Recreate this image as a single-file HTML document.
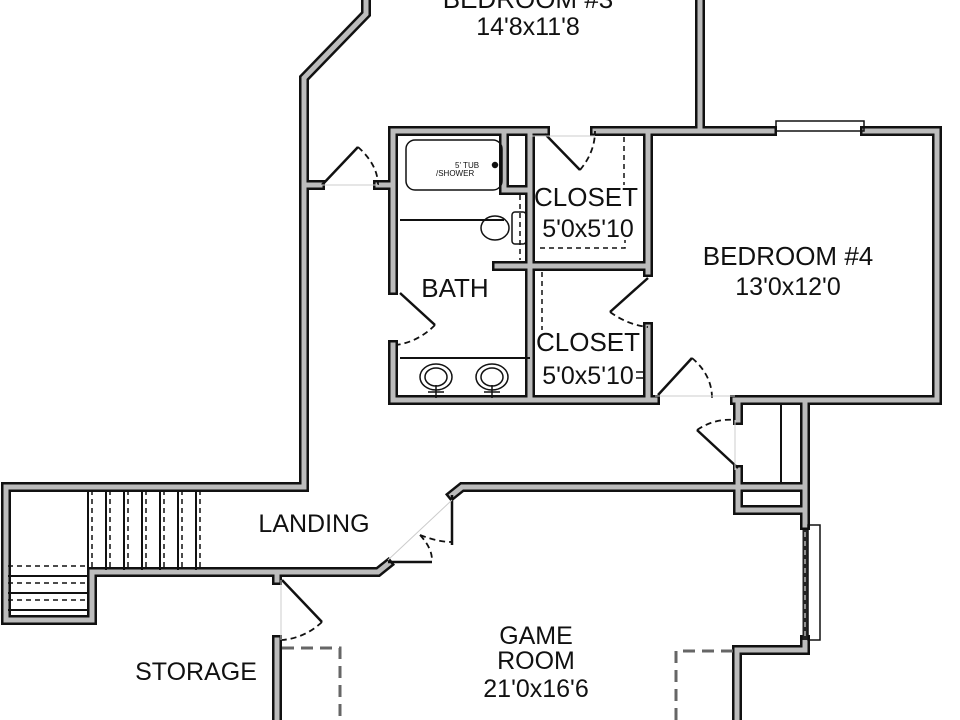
<!DOCTYPE html>
<html><head><meta charset="utf-8"><style>
html,body{margin:0;padding:0;background:#fff;}
svg{display:block;}
text{font-family:"Liberation Sans",sans-serif;fill:#111;}
</style></head><body>
<svg width="960" height="720" viewBox="0 0 960 720" xmlns="http://www.w3.org/2000/svg">
<g fill="none" stroke-linejoin="miter" stroke-linecap="square">
<g stroke="#111" stroke-width="10">
  <path d="M366,0 V14 L304,78 V487 H6 V620 H92 V572 H378 L388,564"/>
  <path d="M700,0 V131"/>
  <path d="M393,131 H545 M595,131 H772 M865,131 H937 V400 H735 M655,400 H393 V345 M393,290 V131"/>
  <path d="M304,185 H320 M378,185 H393"/>
  <path d="M530,131 V400 M497,266 H648 M648,131 V272 M648,327 V400"/>
  <path d="M504,131 V190 H530"/>
  <path d="M738,400 V420 M738,470 V510 H805 M738,487 H805 M805,400 V525 M805,640 V650 H737 V720"/>
  <path d="M452,495 L462,487 H738"/>
  <path d="M277,572 V580 M277,640 V720"/>
</g>
<g stroke="#bcbcbc" stroke-width="5">
  <path d="M366,0 V14 L304,78 V487 H6 V620 H92 V572 H378 L388,564"/>
  <path d="M700,0 V131"/>
  <path d="M393,131 H545 M595,131 H772 M865,131 H937 V400 H735 M655,400 H393 V345 M393,290 V131"/>
  <path d="M304,185 H320 M378,185 H393"/>
  <path d="M530,131 V400 M497,266 H648 M648,131 V272 M648,327 V400"/>
  <path d="M504,131 V190 H530"/>
  <path d="M738,400 V420 M738,470 V510 H805 M738,487 H805 M805,400 V525 M805,640 V650 H737 V720"/>
  <path d="M452,495 L462,487 H738"/>
  <path d="M277,572 V580 M277,640 V720"/>
</g>
</g>
<g stroke="#111" stroke-width="2" fill="none">
  <path d="M400,220 H504 M400,358 H530"/>
  <path d="M781,404 V484"/>
  <rect x="776" y="121" width="88" height="10" stroke-width="1.5"/>
  <rect x="808" y="525" width="12" height="115" stroke-width="1.5"/>
  <path d="M452,495 V545 M388,562 H432" stroke-width="2.5"/>
  <path d="M88,490 V570 M106,490 V570 M124,490 V570 M142,490 V570 M160,490 V570 M178,490 V570 M196,490 V570"/>
  <path d="M8,576 H88 M8,593 H88 M8,610 H88"/>
</g>
<g stroke="#111" stroke-width="1.5" fill="none" stroke-dasharray="5,4">
  <path d="M92,490 V570 M110,490 V570 M128,490 V570 M146,490 V570 M164,490 V570 M182,490 V570 M200,490 V570"/>
  <path d="M8,566 H88 M8,583 H88 M8,600 H88"/>
  <path d="M624,137 V185 M520,195 V260 M542,272 V330 M540,248 H625 V240"/>
</g>
<path d="M805,530 V640" stroke="#222" stroke-width="5"/>
<path d="M805,532 V638" stroke="#fff" stroke-width="1" stroke-dasharray="5,4"/>
<g stroke="#111" stroke-width="2.5" fill="none">
  <path d="M322,185 L358,147"/>
  <path d="M545,134 L580,170"/>
  <path d="M400,293 L435,325"/>
  <path d="M648,278 L610,312"/>
  <path d="M658,395 L692,358"/>
  <path d="M738,468 L697,430"/>
  <path d="M282,580 L322,622"/>
</g>
<g stroke="#111" stroke-width="1.8" fill="none" stroke-dasharray="6,4">
  <path d="M358,147 Q378,165 378,185"/>
  <path d="M580,170 Q595,152 595,131"/>
  <path d="M435,325 Q418,342 396,345"/>
  <path d="M610,312 Q628,325 648,327"/>
  <path d="M692,358 Q712,375 712,398"/>
  <path d="M697,430 Q715,418 735,420"/>
  <path d="M322,622 Q305,638 282,640"/>
  <path d="M420,535 Q432,548 432,560"/>
  <path d="M420,535 Q438,542 452,542"/>
</g>
<g stroke="#111" stroke-width="1.5" fill="none">
  <rect x="406" y="140" width="96" height="50" rx="9"/>
  <circle cx="495" cy="165" r="2.5" fill="#111"/>
  <ellipse cx="495" cy="228" rx="14" ry="12"/>
  <rect x="512" y="212" width="14" height="32" rx="3"/>
  <ellipse cx="436" cy="377" rx="16" ry="13"/><ellipse cx="436" cy="377" rx="11" ry="9"/>
  <ellipse cx="492" cy="377" rx="16" ry="13"/><ellipse cx="492" cy="377" rx="11" ry="9"/>
  <path d="M428,392 H444 M436,385 V398 M484,392 H500 M492,385 V398"/>
  <path d="M636,372 H644 M636,378 H644"/>
</g>
<g stroke="#666" stroke-width="3" fill="none" stroke-dasharray="12,7">
  <path d="M282,648 H340 V720"/>
  <path d="M676,720 V651 H735"/>
</g>
<g stroke="#ccc" stroke-width="1" fill="none">
  <path d="M320,185 H378 M530,136 H595 M655,396 H735 M388,560 L452,500 M281,580 V640 M735,420 V470"/>
</g>
<text x="455" y="168" font-size="8">5' TUB</text>
<text x="436" y="176" font-size="8">/SHOWER</text>
<text x="586" y="206" font-size="26" text-anchor="middle" textLength="104">CLOSET</text>
<text x="588" y="237" font-size="25" text-anchor="middle">5'0x5'10</text>
<text x="588" y="351" font-size="26" text-anchor="middle" textLength="104">CLOSET</text>
<text x="588" y="384" font-size="25" text-anchor="middle">5'0x5'10</text>
<text x="455" y="297" font-size="26" text-anchor="middle">BATH</text>
<text x="788" y="265" font-size="26" text-anchor="middle">BEDROOM #4</text>
<text x="788" y="295" font-size="25" text-anchor="middle">13'0x12'0</text>
<text x="528" y="8" font-size="26" text-anchor="middle">BEDROOM #3</text>
<text x="528" y="35" font-size="25" text-anchor="middle">14'8x11'8</text>
<text x="314" y="532" font-size="25" text-anchor="middle">LANDING</text>
<text x="196" y="680" font-size="25" text-anchor="middle">STORAGE</text>
<text x="536" y="644" font-size="25" text-anchor="middle">GAME</text>
<text x="536" y="669" font-size="25" text-anchor="middle">ROOM</text>
<text x="536" y="697" font-size="25" text-anchor="middle">21'0x16'6</text>
</svg>
</body></html>
